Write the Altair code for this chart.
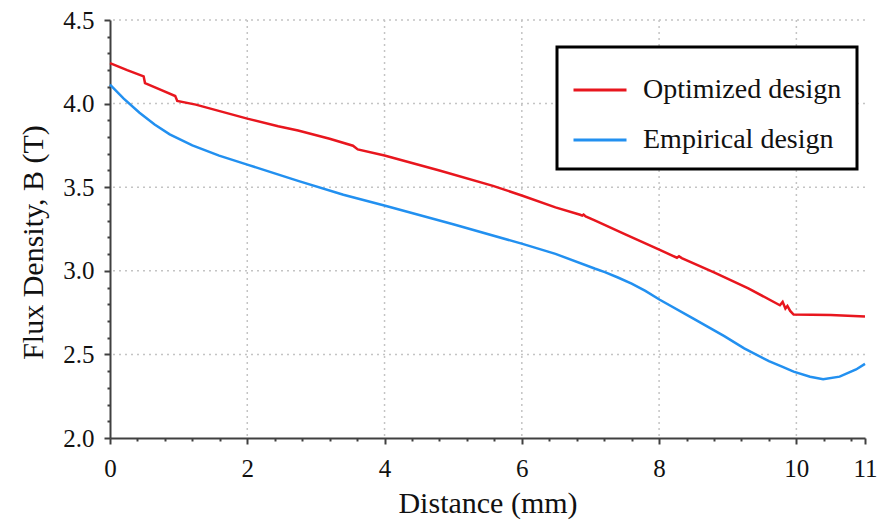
import altair as alt
import pandas as pd

# ---- data ----
opt_x = [0.00, 0.25, 0.49, 0.51, 0.75, 0.95, 0.98, 1.25, 2.00, 2.45, 2.74, 3.20, 3.54, 3.61,
         4.00, 4.80, 5.58, 6.01, 6.49, 6.85, 6.88, 6.90, 6.93, 7.07, 7.50, 8.01, 8.26, 8.29,
         8.33, 8.80, 9.30, 9.76, 9.80, 9.84, 9.87, 9.91, 9.96, 10.50, 11.00]
opt_y = [4.242, 4.20, 4.163, 4.123, 4.08, 4.045, 4.016, 3.994, 3.91, 3.865, 3.839, 3.79, 3.748, 3.726,
         3.69, 3.60, 3.508, 3.449, 3.379, 3.335, 3.33, 3.336, 3.325, 3.30, 3.22, 3.125, 3.078, 3.087,
         3.076, 2.99, 2.895, 2.794, 2.814, 2.774, 2.79, 2.76, 2.738, 2.735, 2.727]

emp_x = [0.00, 0.20, 0.43, 0.65, 0.87, 1.20, 1.59, 2.00, 2.74, 3.40, 4.01, 5.00, 6.01, 6.49,
         7.07, 7.21, 7.40, 7.60, 7.80, 8.01, 8.50, 8.95, 9.24, 9.60, 9.80, 9.96, 10.20, 10.39,
         10.63, 10.87, 11.00]
emp_y = [4.113, 4.03, 3.945, 3.875, 3.816, 3.75, 3.689, 3.635, 3.538, 3.455, 3.389, 3.278, 3.161, 3.101,
         3.012, 2.992, 2.96, 2.923, 2.88, 2.827, 2.714, 2.609, 2.536, 2.46, 2.425, 2.397, 2.366, 2.351,
         2.367, 2.41, 2.443]

series = ["Optimized design", "Empirical design"]
colors = ["#e8161e", "#2290f0"]

x_ticks = [round(k * 0.4, 1) for k in range(28)] + [11]
y_ticks = [round(2.0 + k * 0.1, 1) for k in range(26)]
x_grid_vals = [2, 4, 6, 8, 10]
y_grid_vals = [2.5, 3.0, 3.5, 4.0, 4.5]

rows = []
for i, (xv, yv) in enumerate(zip(opt_x, opt_y)):
    rows.append({"x": xv, "y": yv, "series": series[0], "i": i})
for i, (xv, yv) in enumerate(zip(emp_x, emp_y)):
    rows.append({"x": xv, "y": yv, "series": series[1], "i": i})
df = pd.DataFrame(rows)

FONT = "Times New Roman, Liberation Serif, serif"

x_major = "(abs(datum.value/2 - round(datum.value/2)) < 0.001 || abs(datum.value - 11) < 0.001)"
y_major = "(abs(datum.value*2 - round(datum.value*2)) < 0.001)"

xscale = alt.Scale(domain=[0, 11], nice=False, zero=False)
yscale = alt.Scale(domain=[2.0, 4.5], nice=False, zero=False)

x_axis = alt.Axis(
    values=x_ticks,
    title="Distance (mm)",
    labelExpr=f"{x_major} ? format(datum.value, 'd') : ''",
    labelFlush=False,
    grid=False,
    tickSize={"condition": {"test": x_major, "value": 6}, "value": 3},
    labelPadding=12,
    titleY=74,
    titleBaseline="alphabetic",
)
y_axis = alt.Axis(
    values=y_ticks,
    title="Flux Density, B (T)",
    labelExpr=f"{y_major} ? format(datum.value, '.1f') : ''",
    labelFlush=False,
    grid=False,
    tickSize={"condition": {"test": y_major, "value": 6}, "value": 3},
    labelPadding=10,
    titleX=-68,
    titleY=222,
    titleBaseline="alphabetic",
    titleAngle=-90,
)

grid_style = dict(color="#c4c4c4", strokeDash=[2, 4], strokeWidth=1.5)

vgrid = alt.Chart(pd.DataFrame({"gx": x_grid_vals})).mark_rule(**grid_style).encode(
    x=alt.X("gx:Q", scale=xscale, axis=x_axis)
)
hgrid = alt.Chart(pd.DataFrame({"gy": y_grid_vals})).mark_rule(**grid_style).encode(
    y=alt.Y("gy:Q", scale=yscale, axis=y_axis)
)

lines = alt.Chart(df).mark_line(strokeWidth=2.5).encode(
    x=alt.X("x:Q", scale=xscale, axis=x_axis),
    y=alt.Y("y:Q", scale=yscale, axis=y_axis),
    color=alt.Color("series:N",
                    scale=alt.Scale(domain=series, range=colors),
                    sort=series,
                    legend=alt.Legend(
                        title=None,
                        orient="none",
                        legendX=447,
                        legendY=27,
                        symbolType="stroke",
                        symbolSize=2809,
                        symbolStrokeWidth=3,
                        labelFontSize=28,
                        labelFont=FONT,
                        labelColor="#111111",
                        labelOffset=15,
                        labelLimit=500,
                        padding=15,
                        rowPadding=8,
                        strokeColor="#000000",
                        fillColor="#ffffff",
                    )),
    order="i:Q",
)

chart = alt.layer(vgrid, hgrid, lines).properties(
    width=755,
    height=418,
    padding={"left": 102, "top": 12, "right": 15, "bottom": 82},
    autosize=alt.AutoSizeParams(type="none"),
).configure_view(
    stroke=None
).configure_axis(
    labelFont=FONT,
    titleFont=FONT,
    labelFontSize=25,
    titleFontSize=30,
    labelColor="#111111",
    titleColor="#111111",
    titleFontWeight="normal",
    domainColor="#404040",
    domainWidth=2,
    tickColor="#404040",
    tickWidth=2,
).configure_legend(
    strokeWidth=3
)

chart.save("out.html", embed_options={"renderer": "svg", "actions": False})
